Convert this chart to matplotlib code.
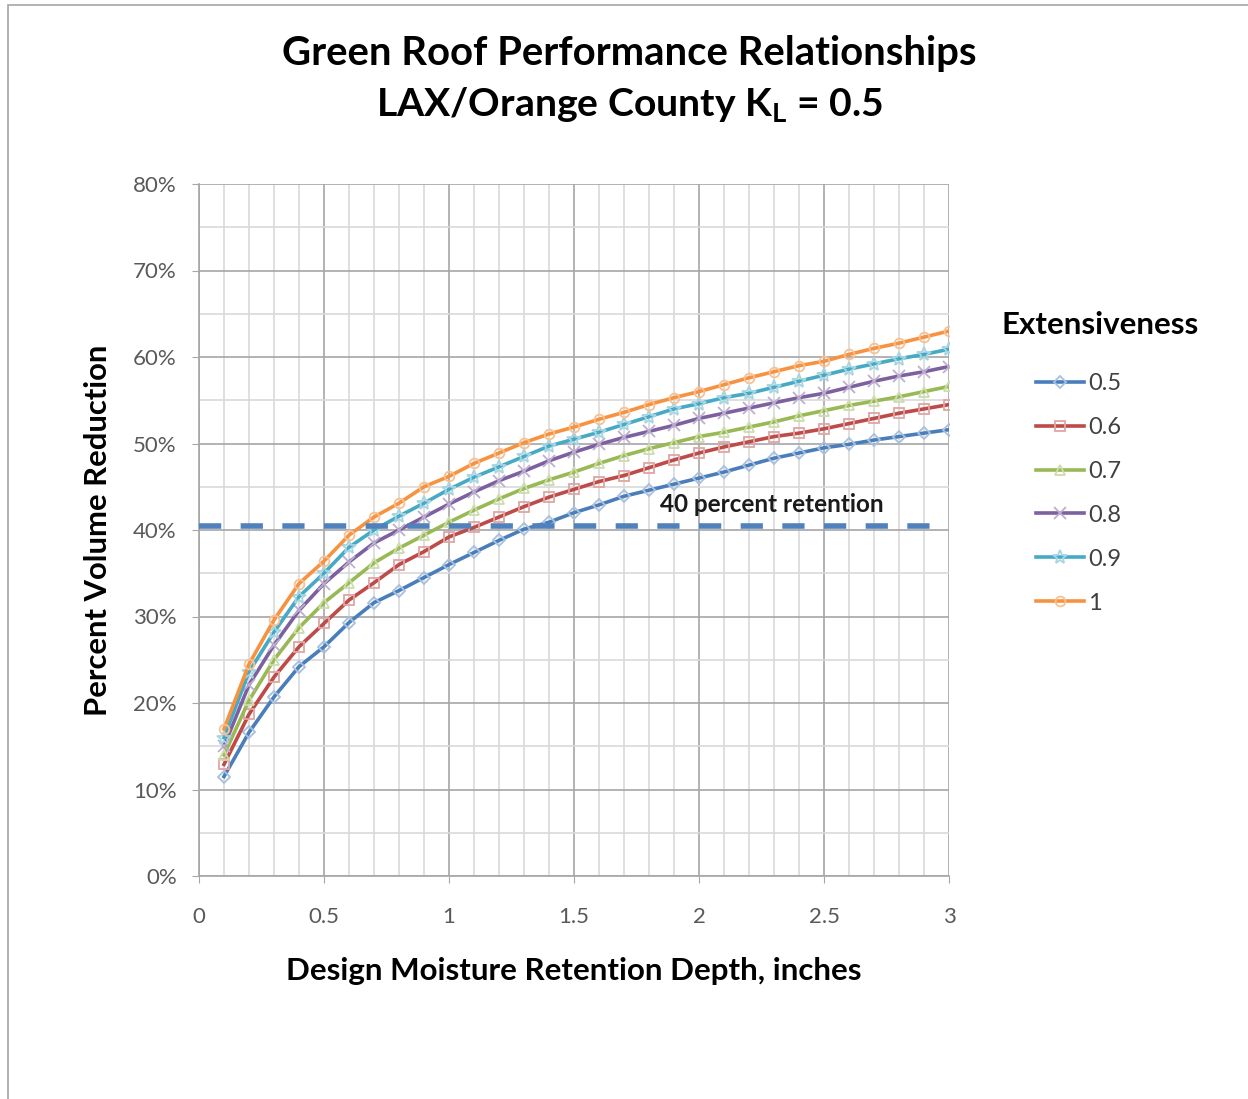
import numpy as np
import matplotlib
matplotlib.use("Agg")
import matplotlib.pyplot as plt
from matplotlib.ticker import MultipleLocator, PercentFormatter
from matplotlib.patches import Rectangle

plt.rcParams['font.family'] = ['Lato', 'DejaVu Sans']
plt.rcParams['mathtext.fontset'] = 'custom'
plt.rcParams['mathtext.rm'] = 'Lato'
plt.rcParams['mathtext.bf'] = 'Lato:bold'

# design moisture retention depth, inches
depth = [round(0.1 * i, 1) for i in range(1, 31)]

# percent volume reduction for each extensiveness value
ext_labels = ['0.5', '0.6', '0.7', '0.8', '0.9', '1']
red_05 = [11.5, 16.6, 20.7, 24.2, 26.5, 29.3, 31.6, 33.0, 34.5, 36.0,
          37.4, 38.8, 40.1, 40.9, 42.0, 42.9, 43.9, 44.6, 45.3, 46.0,
          46.7, 47.5, 48.3, 48.9, 49.5, 49.9, 50.4, 50.8, 51.2, 51.6]
red_06 = [12.9, 18.7, 23.0, 26.5, 29.2, 31.9, 33.9, 36.0, 37.5, 39.2,
          40.3, 41.5, 42.7, 43.8, 44.7, 45.6, 46.3, 47.2, 48.1, 48.9,
          49.6, 50.2, 50.8, 51.2, 51.7, 52.3, 52.9, 53.5, 54.0, 54.5]
red_07 = [14.0, 20.3, 25.0, 28.7, 31.6, 33.9, 36.2, 37.9, 39.4, 40.9,
          42.3, 43.6, 44.8, 45.8, 46.7, 47.7, 48.6, 49.4, 50.1, 50.8,
          51.3, 51.9, 52.5, 53.2, 53.8, 54.4, 54.9, 55.4, 56.0, 56.6]
red_08 = [15.0, 22.1, 26.7, 30.7, 33.8, 36.3, 38.5, 40.0, 41.5, 43.0,
          44.4, 45.7, 46.8, 48.0, 49.0, 49.9, 50.7, 51.4, 52.1, 52.9,
          53.5, 54.1, 54.7, 55.3, 55.8, 56.5, 57.2, 57.8, 58.3, 58.9]
red_09 = [16.0, 23.6, 28.2, 32.3, 35.0, 38.0, 40.0, 41.6, 43.1, 44.7,
          46.1, 47.3, 48.5, 49.7, 50.5, 51.3, 52.2, 53.1, 54.0, 54.6,
          55.3, 55.8, 56.5, 57.2, 57.9, 58.6, 59.2, 59.8, 60.3, 60.9]
red_10 = [17.0, 24.5, 29.6, 33.8, 36.4, 39.4, 41.5, 43.1, 45.0, 46.2,
          47.7, 48.9, 50.1, 51.1, 51.9, 52.8, 53.6, 54.5, 55.3, 56.0,
          56.8, 57.6, 58.3, 59.0, 59.5, 60.3, 61.0, 61.6, 62.3, 63.0]
series = [red_05, red_06, red_07, red_08, red_09, red_10]

retention_x = [0, 3]
retention_y = [40.5, 40.5]

line_colors = ['#4A7EBB', '#BE4B48', '#98B954', '#7D60A0', '#46AAC5', '#F69240']
marker_colors = ['#A7C0DE', '#DFA6A4', '#CCDDAA', '#BDAFD0', '#A5D5E2', '#FAC090']
markers = ['D', 's', '^', 'x', '*', 'o']
msizes = [6.5, 7, 7, 8, 10, 7]

fig = plt.figure(figsize=(12.48, 10.99), dpi=100)
fig.patches.append(Rectangle((8 / 1248, -0.01), 1.1, 1 - 5 / 1099 + 0.01,
                             transform=fig.transFigure, fill=False,
                             edgecolor='#A6A6A6', linewidth=1.2))
ax = fig.add_axes([199 / 1248, 1 - 876 / 1099, 750 / 1248, 692 / 1099])

for vals, lab, lc, mc, mk, ms in zip(series, ext_labels, line_colors,
                                     marker_colors, markers, msizes):
    ax.plot(depth, vals, color=lc, lw=2.6, marker=mk, ms=ms,
            mfc='none', mec=mc, mew=1.3, label=lab, zorder=3)

# 40 percent retention reference line, drawn over the curves
ret, = ax.plot(retention_x, retention_y, color='#4F81BD', lw=4, zorder=4,
               clip_on=False, solid_capstyle='butt')
ret.set_dashes([4, 3.5])
ret.set_dash_capstyle('butt')
ax.text(2.29, 43.0, '40 percent retention', fontsize=17.5, fontweight='bold',
        ha='center', va='center', color='#1a1a1a', zorder=5)

ax.set_xlim(0, 3)
ax.set_ylim(0, 80)
ax.xaxis.set_major_locator(MultipleLocator(0.5))
ax.xaxis.set_minor_locator(MultipleLocator(0.1))
ax.yaxis.set_major_locator(MultipleLocator(10))
ax.yaxis.set_minor_locator(MultipleLocator(5))
ax.yaxis.set_major_formatter(PercentFormatter(decimals=0))
ax.xaxis.set_major_formatter(lambda v, p: f'{v:g}')
ax.grid(which='major', color='#A6A6A6', lw=1.2)
ax.grid(which='minor', color='#D9D9D9', lw=1.2)
ax.set_axisbelow(True)
for s in ['top', 'right']:
    ax.spines[s].set_visible(False)
for s in ['left', 'bottom']:
    ax.spines[s].set_color('#A6A6A6')
    ax.spines[s].set_linewidth(1.2)
ax.tick_params(which='major', length=5, color='#A6A6A6', labelsize=16,
               labelcolor='#595959')
ax.tick_params(axis='x', pad=17)
ax.tick_params(axis='y', pad=11)
ax.tick_params(which='minor', length=0)

ax.set_xlabel('Design Moisture Retention Depth, inches', fontsize=22.5,
              fontweight='bold', labelpad=22)
ax.set_ylabel('Percent Volume Reduction', fontsize=22.3, fontweight='bold',
              labelpad=15)

fig.text(629 / 1248, 1 - 53 / 1099, 'Green Roof Performance Relationships',
         fontsize=28.8, fontweight='bold', ha='center', va='center')
fig.text(629 / 1248, 1 - 105 / 1099,
         r'LAX/Orange County $\mathbf{K_{L}}$ = 0.5',
         fontsize=28.2, fontweight='bold', ha='center', va='center')

fig.text(1002 / 1248, 1 - 325 / 1099, 'Extensiveness', fontsize=22.5,
         fontweight='bold', ha='left', va='center')
ax.legend(loc='upper left', bbox_to_anchor=(1036 / 1248, 1 - 373 / 1099),
          bbox_transform=fig.transFigure, frameon=False, fontsize=17,
          handlelength=2.03, handletextpad=0.17, labelspacing=0.97,
          borderpad=0, borderaxespad=0, labelcolor='#404040')

fig.savefig('out.png', dpi=100)
